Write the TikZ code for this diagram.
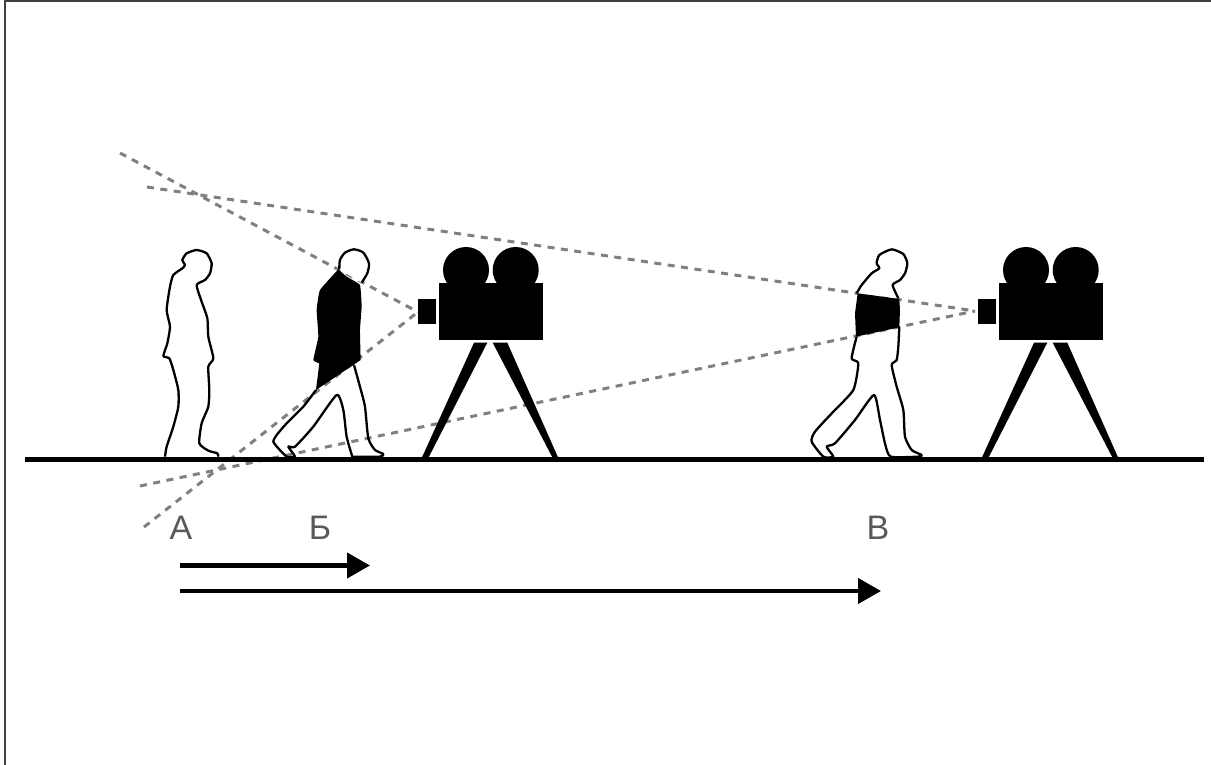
\documentclass[tikz,border=0pt]{standalone}
\usepackage{fontspec}
\setmainfont{Liberation Sans}
\usetikzlibrary{arrows.meta}
\definecolor{ink}{HTML}{000000}
\definecolor{rayc}{HTML}{808080}
\definecolor{labelc}{HTML}{595959}
\tikzset{
  ray/.style={draw=rayc,line width=3pt,dash pattern=on 7pt off 6.5pt},
  outline/.style={draw=ink,line width=2.3pt,line join=round},
  ground/.style={draw=ink,line width=4.4pt},
  travel/.style={draw=ink,line width=4.2pt,-{Triangle[length=23pt,width=25pt]}},
  letter/.style={text=labelc,font=\fontsize{34}{34}\selectfont,anchor=base,inner sep=0pt}
}
\newcommand{\moviecam}[1]{%
  \begin{scope}[xshift=#1pt]
    \fill[ink] (466,270) circle[radius=23];
    \fill[ink] (515.7,270) circle[radius=23];
    \fill[ink] (439.3,283.3) rectangle (543.3,340);
    \fill[ink] (417.7,299) rectangle (435.7,324);
    \fill[ink] (474,342.7) -- (487.3,342.7) -- (428.3,458) -- (421.7,458) -- cycle;
    \fill[ink] (492.7,342.7) -- (507.3,342.7) -- (558.3,458) -- (552.7,458) -- cycle;
  \end{scope}}
\newcommand{\walkerlegs}{
  plot[smooth,tension=0.35] coordinates {(558,480)(520,530)(470,580)(440,615)(430,635)(445,655)(470,680)(495,680)(475,650)(495,650)(550,590)(620,495)(640,540)(650,620)(667,680)}
  plot[smooth,tension=0.35] coordinates {(672,405)(690,470)(705,530)(715,625)(735,660)(760,672)(750,680)(667,680)}
}
\begin{document}
\begin{tikzpicture}[x=1pt,y=-1pt]
\useasboundingbox (0,0) rectangle (1211,765);
\fill[white] (0,0) rectangle (1211,765);
\draw[ink!75,line width=1.3pt] (5,765) -- (5,1) -- (1211,1);

\coordinate (apexone) at (418,312);
\coordinate (apextwo) at (975,311);
\coordinate (uponeend) at (120,153);
\coordinate (downoneend) at (144,527);
\coordinate (uptwoend) at (147,187);
\coordinate (downtwoend) at (140,486);
\draw[ray] (uponeend) -- (apexone);
\draw[ray] (downoneend) -- (apexone);
\draw[ray] (uptwoend) -- (apextwo);
\draw[ray] (downtwoend) -- (apextwo);

% figure A
\begin{scope}[shift={(130,230)},x=0.3333pt,y=-0.3333pt]
\path[outline,fill=white] plot[smooth,tension=0.35] coordinates {(105,680)(110,650)(130,590)(145,530)(145,480)(130,420)(118,385)(100,378)(112,340)(120,290)(110,240)(120,170)(130,135)(157,115)(165,105)(157,90)(170,70)(200,60)(230,70)(245,100)(240,130)(225,150)(200,165)(215,215)(232,265)(235,320)(250,385)(235,410)(238,480)(235,530)(215,580)(208,640)(235,662)(262,670)(265,680)};
\end{scope}

% figure B
\begin{scope}[shift={(130,230)},x=0.3333pt,y=-0.3333pt]
\path[outline,fill=white] plot[smooth,tension=0.4] coordinates {(628,118)(630,90)(645,68)(672,58)(700,68)(717,100)(712,130)(695,158)};
\fill[ink] plot[smooth,tension=0.2] coordinates {(625,118)(650,140)(690,165)(695,230)(690,300)(692,390)} -- (670,405) -- (558,480) -- plot[smooth,tension=0.2] coordinates {(568,400)(550,390)(565,320)(560,240)(570,180)(625,118)} -- cycle;
\draw[outline] \walkerlegs;
\end{scope}

% figure C
\begin{scope}[shift={(790,230)},x=0.3333pt,y=-0.3333pt]
\path[outline,fill=white] plot[smooth,tension=0.35] coordinates {(200,190)(215,165)(245,130)(268,115)(260,100)(268,75)(305,58)(340,72)(352,100)(345,130)(330,150)(308,165)(325,205)};
\draw[outline] plot[smooth,tension=0.35] coordinates {(328,290)(325,350)(320,390)(305,405)(320,470)(340,540)(345,620)(365,660)(395,675)(385,680)(302,680)(285,640)(270,570)(252,495)(195,570)(135,640)(110,650)(130,680)(100,680)(65,635)(75,605)(130,545)(190,480)(205,400)(185,385)(200,320)};
\fill[ink] (203,190) -- (328,207) -- (330,240) -- (328,292) -- (198,320) -- (195,250) -- cycle;
\end{scope}

\moviecam{0}
\moviecam{560}

\coordinate (groundl) at (25,459.5);
\coordinate (groundr) at (1204,459.5);
\draw[ground] (groundl) -- (groundr);

\node[letter] (la) at (181,539) {А};
\node[letter] (lb) at (320,539) {Б};
\node[letter] (lv) at (878,539) {В};

\coordinate (shortfrom) at (180,565.5);
\coordinate (shortto) at (370,565.5);
\coordinate (longfrom) at (180,591);
\coordinate (longto) at (881,591);
\draw[travel] (shortfrom) -- (shortto);
\draw[travel] (longfrom) -- (longto);
\end{tikzpicture}
\end{document}
